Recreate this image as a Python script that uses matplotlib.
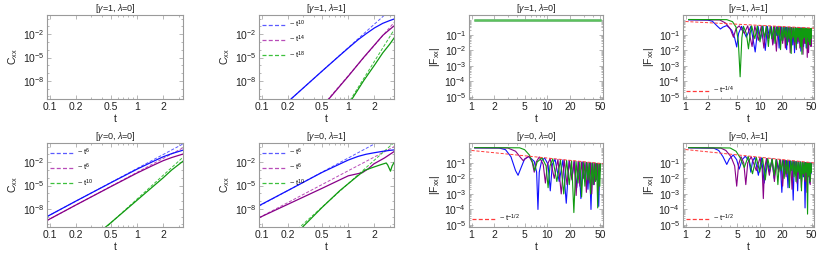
import matplotlib
matplotlib.use('Agg')
import matplotlib.pyplot as plt
import matplotlib.ticker as mticker
import numpy as np

plt.rcParams['font.family'] = ['Liberation Sans', 'DejaVu Sans']
plt.rcParams['mathtext.fontset'] = 'custom'
plt.rcParams['mathtext.rm'] = 'Liberation Sans'
plt.rcParams['mathtext.it'] = 'Liberation Sans:italic'
plt.rcParams['mathtext.default'] = 'regular'

COLORS = {
    'blue': '#1010ff',
    'purple': '#880088',
    'green': '#109a10',
    'blue_fit': '#5a5aff',
    'purple_fit': '#b84cb8',
    'green_fit': '#3cc03c',
    'red': '#ff3a3a',
    'flat': '#5cc25c',
    'frame': '#9a9a9a',
    'text': '#222222',
}

# tick values
T_TICKS_C = [0.1, 0.2, 0.5, 1, 2]
T_TICKS_F = [1, 2, 5, 10, 20, 50]
C_TICKS = [1e-8, 1e-5, 1e-2]
F_TICKS = [1e-5, 1e-4, 1e-3, 1e-2, 1e-1]

# ---- C_xx curves, (t, log10 C) ----
# gamma=1, lambda=1
C11_BLUE = [(0.2, -10.71), (0.5, -6.73), (0.8, -4.72), (1.0, -3.78), (1.3, -2.7), (1.6, -1.95),
            (2.0, -1.2), (2.5, -0.6), (3.0, -0.25), (3.37, -0.05)]
C11_BLUE_FIT = [(0.2, -10.71), (3.0, 1.05)]
C11_PURPLE = [(0.55, -10.9), (0.6, -10.3), (1.0, -7.4), (1.5, -5.0), (2.0, -3.4), (2.5, -2.15),
              (3.0, -1.4), (3.37, -0.94)]
C11_PURPLE_FIT = [(0.57, -10.5), (3.37, -0.5)]
C11_GREEN = [(1.08, -10.5), (1.5, -8.0), (2.0, -6.0), (2.5, -4.4), (3.0, -3.3), (3.37, -2.5)]
C11_GREEN_FIT = [(1.05, -10.5), (3.37, -1.45)]

# gamma=0, lambda=0
C00_BLUE = [(0.093, -9.0), (0.2, -7.0), (0.5, -4.65), (1.0, -2.9), (1.5, -1.95), (2.0, -1.3),
            (2.5, -0.9), (3.37, -0.45)]
C00_BLUE_FIT = [(0.093, -9.0), (3.37, 0.35)]
C00_PURPLE = [(0.093, -9.5), (0.2, -7.5), (0.5, -5.15), (1.0, -3.4), (1.5, -2.45), (2.0, -1.8),
              (2.5, -1.4), (3.37, -0.95)]
C00_PURPLE_FIT = [(0.093, -9.5), (3.37, -0.15)]
C00_GREEN = [(0.42, -10.5), (0.5, -9.8), (1.0, -6.9), (1.5, -5.2), (2.0, -4.0), (2.5, -3.0),
             (3.37, -1.87)]
C00_GREEN_FIT = [(0.42, -10.6), (3.37, -1.36)]

# gamma=0, lambda=1
C01_BLUE = [(0.093, -7.6), (0.2, -5.65), (0.5, -3.3), (1.0, -1.72), (1.3, -1.25), (1.6, -0.98),
            (2.0, -0.78), (2.5, -0.6), (3.0, -0.48), (3.37, -0.42)]
C01_BLUE_FIT = [(0.093, -7.65), (2.5, 0.93)]
C01_PURPLE = [(0.093, -9.15), (0.5, -5.35), (1.0, -3.75), (1.2, -3.55), (1.45, -3.35), (1.7, -2.85),
              (1.97, -2.22), (2.62, -1.45), (3.37, -0.64)]
C01_PURPLE_FIT = [(0.093, -9.15), (3.37, 0.0)]
C01_GREEN = [(0.27, -10.8), (0.5, -7.8), (0.8, -5.65), (1.18, -4.1), (1.54, -3.05), (2.0, -2.6),
             (2.4, -2.3), (2.74, -2.1), (2.85, -2.35), (3.07, -3.15), (3.2, -2.5), (3.37, -2.05)]
C01_GREEN_FIT = [(0.26, -10.6), (3.37, 0.53)]

# ---- |F_xx| curves, (t, log10 |F|) ----
# gamma=1, lambda=0
F10_FLAT = [(1.1, -0.02), (50.0, -0.02)]

# gamma=1, lambda=1
F11_BLUE = [(1.1, -0.03), (2.0, -0.05), (2.3, -0.12), (2.7, -0.45), (2.95, -0.62), (3.2, -0.5),
            (3.6, -0.4), (4.2, -0.7), (4.6, -1.2), (4.9, -1.78), (5.2, -0.9), (5.7, -0.45),
            (6.6, -1.15), (7.6, -0.45), (8.7, -2.1), (9.5, -0.45),
            (10.3, -1.25), (11.1, -0.43), (11.9, -2.0), (12.7, -0.45), (13.5, -1.15), (14.3, -0.46),
            (15.1, -1.55), (15.9, -0.47), (16.7, -1.05), (17.5, -0.48), (18.3, -1.85), (19.1, -0.49),
            (19.9, -1.35), (20.7, -0.5), (21.5, -1.15), (22.3, -0.51), (23.1, -1.95), (23.9, -0.51),
            (24.7, -1.45), (25.5, -0.52), (26.3, -1.05), (27.1, -0.53), (27.9, -1.65), (28.7, -0.53),
            (29.5, -2.15), (30.3, -0.54), (31.1, -1.25), (31.9, -0.55), (32.7, -1.55), (33.5, -0.55),
            (34.3, -1.15), (35.1, -0.56), (35.9, -2.05), (36.7, -0.56), (37.5, -1.35), (38.3, -0.57),
            (39.1, -1.75), (39.9, -0.57), (40.7, -1.25), (41.5, -0.57), (42.3, -1.85), (43.1, -0.58),
            (43.9, -1.45), (44.7, -0.58), (45.5, -1.95), (46.3, -0.59), (47.1, -1.25), (47.9, -0.59),
            (48.7, -1.65), (49.5, -0.59)]
F11_PURPLE = [(1.1, -0.02), (2.9, -0.04), (3.5, -0.25), (4.0, -0.6), (4.43, -1.15), (4.8, -0.6),
              (5.3, -0.42), (6.2, -0.9), (6.9, -0.42), (7.9, -1.75), (8.6, -0.43),
              (9.6, -1.35), (10.5, -0.43), (11.4, -1.85), (12.3, -0.44), (13.2, -1.25), (14.1, -0.46),
              (15.0, -1.65), (15.9, -0.47), (16.8, -2.05), (17.7, -0.48), (18.6, -1.15), (19.5, -0.49),
              (20.4, -1.55), (21.3, -0.5), (22.2, -1.85), (23.1, -0.51), (24.0, -1.35), (24.9, -0.52),
              (25.8, -2.15), (26.7, -0.52), (27.6, -1.25), (28.5, -0.53), (29.4, -1.65), (30.3, -0.54),
              (31.2, -1.95), (32.1, -0.55), (33.0, -1.45), (33.9, -0.55), (34.8, -1.85), (35.7, -0.56),
              (36.6, -1.25), (37.5, -0.56), (38.4, -2.25), (39.3, -0.57), (40.2, -1.55), (41.1, -0.57),
              (42.0, -1.35), (42.9, -0.58), (43.8, -2.45), (44.7, -0.58), (45.6, -2.15), (46.5, -0.59),
              (47.4, -1.45), (48.3, -0.59), (49.2, -1.75), (50.0, -0.6)]
F11_GREEN = [(1.1, -0.01), (3.6, -0.02), (4.3, -0.15), (4.8, -0.5), (5.15, -1.4), (5.45, -3.7),
             (5.75, -1.2), (6.04, -0.45), (6.6, -0.9), (7.06, -1.9), (7.5, -0.8), (7.8, -0.42),
             (8.6, -1.25), (9.3, -0.42),
             (10.1, -1.45), (10.85, -0.43), (11.6, -1.15), (12.35, -0.44), (13.1, -1.75), (13.85, -0.45),
             (14.6, -1.25), (15.35, -0.47), (16.1, -1.55), (16.85, -0.48), (17.6, -1.05), (18.35, -0.49),
             (19.1, -1.95), (19.85, -0.49), (20.6, -1.35), (21.35, -0.5), (22.1, -1.15), (22.85, -0.51),
             (23.6, -1.65), (24.35, -0.52), (25.1, -1.25), (25.85, -0.52), (26.6, -2.2), (27.35, -0.53),
             (28.1, -1.15), (28.85, -0.53), (29.6, -1.45), (30.35, -0.54), (31.1, -1.85), (31.85, -0.55),
             (32.6, -1.15), (33.35, -0.55), (34.1, -1.35), (34.85, -0.56), (35.6, -1.75), (36.35, -0.56),
             (37.1, -2.25), (37.85, -0.57), (38.6, -1.25), (39.35, -0.57), (40.1, -1.15), (40.85, -0.57),
             (41.6, -1.55), (42.35, -0.58), (43.1, -1.85), (43.85, -0.58), (44.6, -1.15), (45.35, -0.58),
             (46.1, -1.45), (46.85, -0.59), (47.6, -1.65), (48.35, -0.59), (49.1, -1.25), (49.85, -0.59)]
F11_RED = [(1.0, -0.14), (54.0, -0.57)]

# gamma=0, lambda=0
F00_BLUE = [(1.1, -0.03), (2.3, -0.04), (2.8, -0.15), (3.3, -0.6), (3.8, -1.5), (4.1, -1.8),
            (4.5, -1.3), (5.0, -0.75), (5.7, -0.59), (6.7, -0.9), (7.2, -1.6), (7.5, -4.0),
            (7.8, -1.6), (8.4, -0.85), (9.2, -0.69), (10.2, -1.1), (10.9, -2.8), (11.6, -1.1),
            (12.6, -0.76), (14.3, -2.2), (16.0, -0.81), (17.7, -3.6), (19.3, -0.85), (21.0, -2.0),
            (22.6, -0.89), (24.3, -2.6), (25.9, -0.92), (27.6, -3.3), (29.2, -0.94), (30.9, -2.2),
            (32.5, -0.97), (34.2, -2.7), (35.8, -0.99), (37.5, -4.0), (39.1, -1.01), (40.8, -2.4),
            (42.4, -1.02), (44.1, -2.0), (45.7, -1.04), (47.4, -3.8), (49.0, -1.06)]
F00_PURPLE = [(1.1, -0.03), (3.0, -0.04), (3.8, -0.25), (4.5, -0.7), (4.8, -0.86), (5.2, -0.7),
              (5.7, -0.57), (6.3, -0.95), (6.7, -1.6), (7.1, -0.95), (7.8, -0.62), (8.8, -1.1),
              (9.4, -2.3), (10.0, -1.1), (10.85, -0.73), (12.3, -2.0), (13.75, -0.78), (15.2, -3.0),
              (16.65, -0.82), (18.1, -2.4), (19.55, -0.86), (21.0, -2.1), (22.45, -0.89), (23.9, -3.1),
              (25.35, -0.91), (26.8, -2.5), (28.25, -0.94), (29.7, -2.0), (31.15, -0.96), (32.6, -2.9),
              (34.05, -0.98), (35.5, -2.3), (36.95, -0.99), (38.4, -3.0), (39.85, -1.01), (41.3, -2.4),
              (42.75, -1.03), (44.2, -2.1), (45.65, -1.04), (47.1, -2.8), (48.55, -1.05), (50.0, -1.5)]
F00_GREEN = [(1.1, -0.02), (4.3, -0.03), (5.0, -0.15), (5.8, -0.5), (6.4, -1.0), (6.8, -1.5),
             (7.3, -0.95), (8.5, -0.67), (9.6, -1.2), (10.2, -2.6), (10.8, -1.2), (11.75, -0.74),
             (13.3, -2.2), (14.85, -0.8), (16.4, -3.0), (17.9, -0.84), (19.4, -2.4), (20.85, -0.87),
             (22.3, -4.2), (23.8, -0.9), (25.3, -2.3), (26.75, -0.92), (28.2, -3.2), (29.7, -0.95),
             (31.2, -2.5), (32.65, -0.97), (34.1, -2.1), (35.55, -0.99), (37.0, -3.0), (38.5, -1.0),
             (40.0, -2.4), (41.5, -1.02), (43.0, -2.2), (44.5, -1.03), (46.0, -3.9), (47.5, -1.05),
             (49.0, -2.5), (50.0, -1.06)]
F00_RED = [(1.0, -0.2), (54.0, -1.05)]

# gamma=0, lambda=1
F01_BLUE = [(1.1, -0.03), (2.4, -0.05), (2.8, -0.2), (3.2, -0.6), (3.6, -1.1), (3.9, -0.75),
            (4.4, -0.49), (4.9, -0.8), (5.3, -1.4), (5.8, -0.8), (6.4, -0.57), (7.2, -0.9),
            (7.6, -1.6), (8.0, -0.9), (8.6, -0.64), (9.6, -1.8), (10.6, -0.68), (11.5, -2.3),
            (12.5, -0.72), (13.6, -1.6), (14.65, -0.75), (15.7, -2.0), (16.75, -0.78), (17.8, -1.4),
            (18.85, -0.81), (19.9, -2.9), (20.95, -0.83), (22.0, -1.7), (23.05, -0.85), (24.1, -2.6),
            (25.15, -0.87), (26.2, -1.5), (27.25, -0.89), (28.3, -3.4), (29.35, -0.9), (30.4, -1.8),
            (31.45, -0.92), (32.5, -2.8), (33.55, -0.93), (34.6, -1.6), (35.65, -0.95), (36.7, -2.2),
            (37.75, -0.96), (38.8, -1.9), (39.85, -0.97), (40.9, -3.9), (41.95, -0.98), (43.0, -2.0),
            (44.05, -0.99), (45.1, -1.8), (46.15, -1.0), (47.2, -2.3), (48.25, -1.01), (49.3, -1.7),
            (50.0, -1.02)]
F01_PURPLE = [(1.1, -0.02), (3.0, -0.05), (3.5, -0.2), (4.1, -0.6), (4.6, -1.2), (4.9, -2.5),
              (5.2, -1.1), (5.6, -0.6), (6.1, -1.0), (6.5, -2.4), (6.9, -1.0), (7.7, -0.61),
              (9.0, -1.5), (10.1, -0.67), (10.8, -1.4), (11.2, -3.3), (11.6, -1.4), (12.35, -0.72),
              (13.5, -1.8), (14.65, -0.75), (15.8, -2.2), (16.95, -0.78), (18.1, -1.6), (19.25, -0.81),
              (20.4, -2.5), (21.55, -0.84), (22.7, -1.9), (23.85, -0.86), (25.0, -2.1), (26.15, -0.88),
              (27.3, -2.7), (28.45, -0.9), (29.6, -1.7), (30.75, -0.91), (31.9, -2.3), (33.05, -0.93),
              (34.2, -2.0), (35.35, -0.94), (36.5, -2.6), (37.65, -0.96), (38.8, -1.8), (39.95, -0.97),
              (41.1, -2.2), (42.25, -0.98), (43.4, -2.9), (44.55, -0.99), (45.7, -1.9), (46.85, -1.01),
              (48.0, -2.4), (49.2, -1.02)]
F01_GREEN = [(1.1, -0.02), (4.0, -0.04), (4.8, -0.25), (5.5, -0.7), (6.2, -1.3), (7.0, -0.58),
             (8.0, -1.7), (9.0, -0.64), (10.0, -1.6), (10.95, -0.69), (11.9, -2.1), (12.85, -0.72),
             (13.8, -1.4), (14.75, -0.75), (15.7, -1.8), (16.65, -0.78), (17.6, -2.4), (18.55, -0.8),
             (19.5, -1.5), (20.45, -0.83), (21.4, -2.0), (22.35, -0.84), (23.3, -1.7), (24.25, -0.86),
             (25.2, -2.6), (26.15, -0.88), (27.1, -1.5), (28.05, -0.89), (29.0, -1.9), (29.95, -0.91),
             (30.9, -2.2), (31.85, -0.92), (32.8, -1.6), (33.75, -0.93), (34.7, -2.0), (35.65, -0.95),
             (36.6, -2.8), (37.55, -0.96), (38.5, -1.7), (39.45, -0.97), (40.4, -2.1), (41.35, -0.98),
             (42.3, -1.6), (43.25, -0.99), (44.2, -4.3), (45.15, -1.0), (46.1, -1.8), (47.05, -1.01),
             (48.0, -2.2), (48.95, -1.01), (49.9, -1.6)]
F01_RED = [(1.0, -0.14), (54.0, -1.0)]

# layout in pixels of the 830x258 picture
W, H = 830, 258
COL_X = [(47, 183), (259, 394), (469, 603), (683, 814)]
ROW_Y = [(15, 99), (143, 227)]


def draw(ax, pairs, color, lw=0.9, dashed=False, label=None, alpha=1.0):
    t, lg = zip(*sorted(pairs))
    ls = (0, (3.2, 1.8)) if dashed else '-'
    ax.plot(t, 10 ** np.array(lg), color=color, lw=lw, ls=ls, label=label, alpha=alpha)


def style(ax, kind, title):
    ax.set_xscale('log')
    ax.set_yscale('log')
    for sp in ax.spines.values():
        sp.set_color(COLORS['frame'])
        sp.set_linewidth(0.8)
    ax.tick_params(which='both', direction='in', top=True, right=True,
                   color=COLORS['frame'], width=0.5, labelsize=7.5, labelcolor=COLORS['text'], pad=2)
    ax.tick_params(which='major', length=3)
    ax.tick_params(which='minor', length=1.5)
    if kind == 'C':
        ax.set_xlim(0.0933, 3.37)
        ax.set_ylim(10 ** -10.33, 10 ** 0.47)
        ax.xaxis.set_major_locator(mticker.FixedLocator(T_TICKS_C))
        ax.xaxis.set_major_formatter(mticker.FixedFormatter([f'{v:g}' for v in T_TICKS_C]))
        ax.yaxis.set_major_locator(mticker.FixedLocator(C_TICKS))
        ax.yaxis.set_minor_locator(mticker.LogLocator(base=10, subs=(1.0,), numticks=30))
        ax.set_ylabel('C$_{xx}$', fontsize=7.5, labelpad=1.5, color=COLORS['text'])
    else:
        ax.set_xlim(0.925, 54)
        ax.set_ylim(10 ** -5.13, 10 ** 0.28)
        ax.xaxis.set_major_locator(mticker.FixedLocator(T_TICKS_F))
        ax.xaxis.set_major_formatter(mticker.FixedFormatter([f'{v:g}' for v in T_TICKS_F]))
        ax.yaxis.set_major_locator(mticker.FixedLocator(F_TICKS))
        ax.yaxis.set_minor_locator(mticker.LogLocator(base=10, subs=np.arange(2, 10), numticks=30))
        ax.set_ylabel('|F$_{xx}$|', fontsize=7.5, labelpad=1.5, color=COLORS['text'])
    ax.yaxis.set_major_formatter(mticker.LogFormatterSciNotation())
    ax.yaxis.set_minor_formatter(mticker.NullFormatter())
    ax.xaxis.set_minor_locator(mticker.LogLocator(base=10, subs=np.arange(2, 10), numticks=30))
    ax.xaxis.set_minor_formatter(mticker.NullFormatter())
    ax.set_xlabel('t', fontsize=7.5, labelpad=1.5, color=COLORS['text'])
    ax.set_title(title, fontsize=6.5, pad=1.5, color=COLORS['text'])


def legend(ax, loc):
    leg = ax.legend(loc=loc, frameon=False, fontsize=5.4, handlelength=3.0, handletextpad=0.5,
                    labelspacing=0.55, borderaxespad=0.25, borderpad=0.2)
    for line in leg.get_lines():
        line.set_linewidth(0.9)


fig = plt.figure(figsize=(W / 100, H / 100), dpi=100)
axes = []
for r in range(2):
    row = []
    for c in range(4):
        x0, x1 = COL_X[c]
        y0, y1 = ROW_Y[r]
        row.append(fig.add_axes([x0 / W, 1 - y1 / H, (x1 - x0) / W, (y1 - y0) / H]))
    axes.append(row)

T1 = r'[$\mathit{\gamma}$=1, $\mathit{\lambda}$=0]'
T2 = r'[$\mathit{\gamma}$=1, $\mathit{\lambda}$=1]'
T3 = r'[$\mathit{\gamma}$=0, $\mathit{\lambda}$=0]'
T4 = r'[$\mathit{\gamma}$=0, $\mathit{\lambda}$=1]'

# top row
ax = axes[0][0]
style(ax, 'C', T1)

ax = axes[0][1]
draw(ax, C11_BLUE_FIT, COLORS['blue_fit'], lw=0.7, dashed=True, label='~ t$^{10}$')
draw(ax, C11_PURPLE_FIT, COLORS['purple_fit'], lw=0.7, dashed=True, label='~ t$^{14}$')
draw(ax, C11_GREEN_FIT, COLORS['green_fit'], lw=0.7, dashed=True, label='~ t$^{18}$')
draw(ax, C11_BLUE, COLORS['blue'])
draw(ax, C11_PURPLE, COLORS['purple'])
draw(ax, C11_GREEN, COLORS['green'])
style(ax, 'C', T2)
legend(ax, 'upper left')

ax = axes[0][2]
draw(ax, F10_FLAT, COLORS['blue'])
draw(ax, F10_FLAT, COLORS['purple'])
draw(ax, F10_FLAT, COLORS['flat'], lw=1.8)
style(ax, 'F', T1)

ax = axes[0][3]
draw(ax, F11_BLUE, COLORS['blue'], lw=0.8)
draw(ax, F11_PURPLE, COLORS['purple'], lw=0.8)
draw(ax, F11_GREEN, COLORS['green'], lw=0.8)
draw(ax, F11_RED, COLORS['red'], lw=0.7, dashed=True, label='~ t$^{-1/4}$')
style(ax, 'F', T2)
legend(ax, 'lower left')

# bottom row
ax = axes[1][0]
draw(ax, C00_BLUE_FIT, COLORS['blue_fit'], lw=0.7, dashed=True, label='~ t$^{6}$')
draw(ax, C00_PURPLE_FIT, COLORS['purple_fit'], lw=0.7, dashed=True, label='~ t$^{6}$')
draw(ax, C00_GREEN_FIT, COLORS['green_fit'], lw=0.7, dashed=True, label='~ t$^{10}$')
draw(ax, C00_BLUE, COLORS['blue'])
draw(ax, C00_PURPLE, COLORS['purple'])
draw(ax, C00_GREEN, COLORS['green'])
style(ax, 'C', T3)
legend(ax, 'upper left')

ax = axes[1][1]
draw(ax, C01_BLUE_FIT, COLORS['blue_fit'], lw=0.7, dashed=True, label='~ t$^{6}$')
draw(ax, C01_PURPLE_FIT, COLORS['purple_fit'], lw=0.7, dashed=True, label='~ t$^{6}$')
draw(ax, C01_GREEN_FIT, COLORS['green_fit'], lw=0.7, dashed=True, label='~ t$^{10}$')
draw(ax, C01_BLUE, COLORS['blue'])
draw(ax, C01_PURPLE, COLORS['purple'])
draw(ax, C01_GREEN, COLORS['green'])
style(ax, 'C', T4)
legend(ax, 'upper left')

ax = axes[1][2]
draw(ax, F00_BLUE, COLORS['blue'], lw=0.8)
draw(ax, F00_PURPLE, COLORS['purple'], lw=0.8)
draw(ax, F00_GREEN, COLORS['green'], lw=0.8)
draw(ax, F00_RED, COLORS['red'], lw=0.7, dashed=True, label='~ t$^{-1/2}$')
style(ax, 'F', T3)
legend(ax, 'lower left')

ax = axes[1][3]
draw(ax, F01_BLUE, COLORS['blue'], lw=0.8)
draw(ax, F01_PURPLE, COLORS['purple'], lw=0.8)
draw(ax, F01_GREEN, COLORS['green'], lw=0.8)
draw(ax, F01_RED, COLORS['red'], lw=0.7, dashed=True, label='~ t$^{-1/2}$')
style(ax, 'F', T4)
legend(ax, 'lower left')

fig.savefig('out.png', dpi=100)
